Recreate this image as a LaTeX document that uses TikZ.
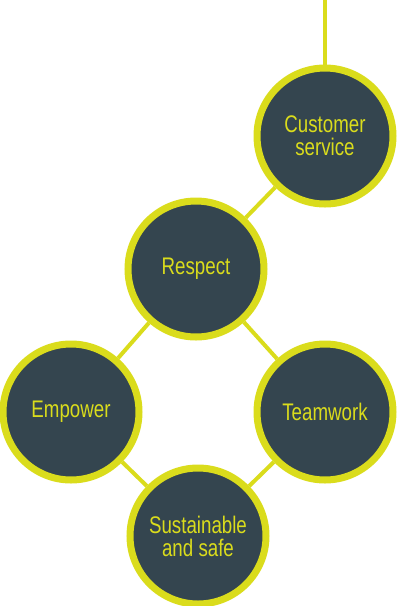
\documentclass[tikz,border=0pt]{standalone}
\usepackage{fontspec}
\setmainfont{Liberation Sans}[FakeStretch=0.78]
\usepackage{xcolor}
\usepackage{tikz}
\definecolor{ringyel}{RGB}{218,220,28}
\definecolor{slatefill}{RGB}{52,69,79}

\begin{document}
\begin{tikzpicture}[x=1pt,y=-1pt,
    value/.style={circle,draw=ringyel,line width=7pt,fill=slatefill,
      minimum size=136pt,inner sep=0pt,text=ringyel,align=center,
      font=\fontsize{24}{23}\selectfont},
    link/.style={ringyel,line width=4pt}]
    \useasboundingbox (0,0) rectangle (400,606);

    % Values
    \node[value] (cust) at (325,136) {Customer\\service};
    \node[value] (resp) at (196,269) {Respect};
    \node[value] (emp)  at (71,412)  {Empower};
    \node[value] (team) at (325,412) {Teamwork};
    \node[value] (sust) at (198,536) {Sustainable\\and safe};

    % Links
    \coordinate (top) at (325,0);
    \draw[link] (top) -- (cust);
    \draw[link] (cust) -- (resp);
    \draw[link] (resp) -- (emp);
    \draw[link] (resp) -- (team);
    \draw[link] (emp) -- (sust);
    \draw[link] (team) -- (sust);
  \end{tikzpicture}
\end{document}
